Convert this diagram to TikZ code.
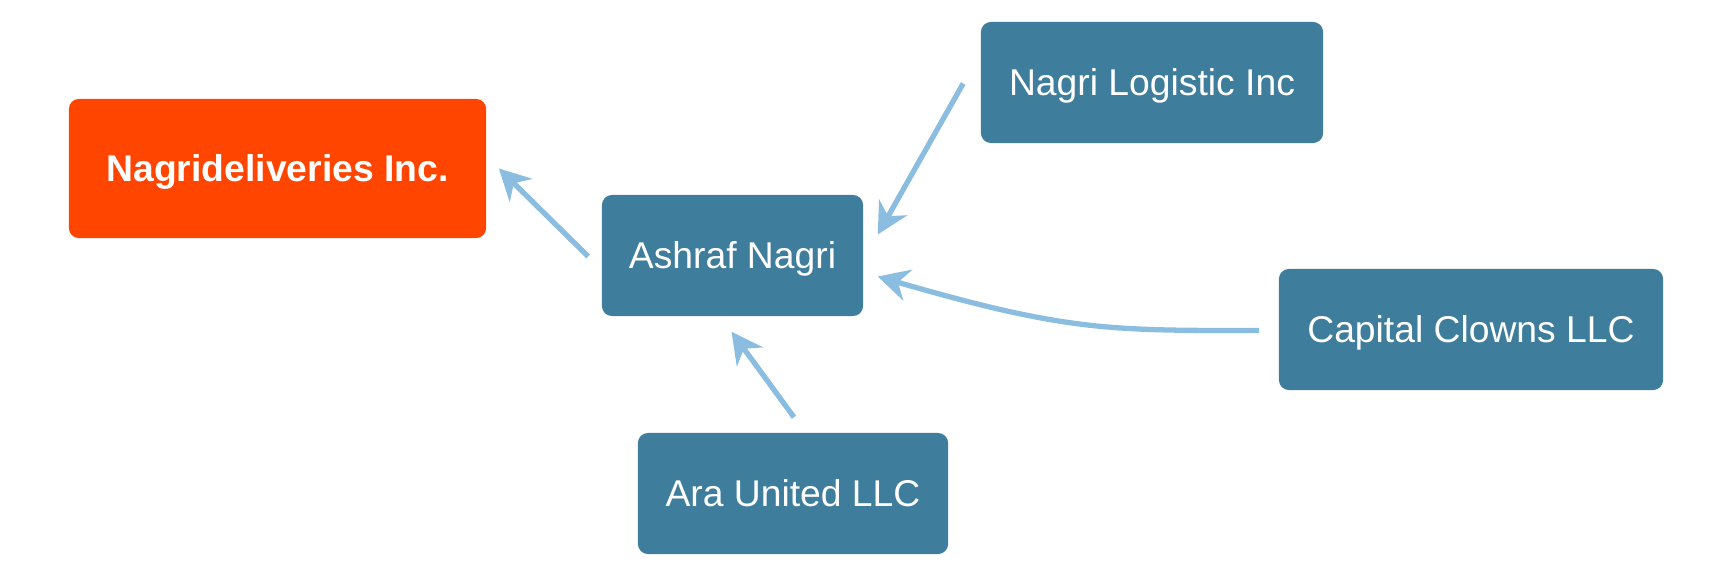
\documentclass[tikz,border=0pt]{standalone}
\usepackage{fontspec}
\setmainfont{Liberation Sans}
\usetikzlibrary{arrows.meta,calc}
\definecolor{boxblue}{RGB}{62,125,156}
\definecolor{boxorange}{RGB}{255,69,0}
\definecolor{linkblue}{RGB}{139,189,224}
\begin{document}
\begin{tikzpicture}[x=0.01cm,y=-0.01cm,
    company/.style={fill=boxblue,text=white,rounded corners=0.1cm,inner sep=0pt,
      text height=0.267cm,text depth=0pt,font=\fontsize{10.6}{12.7}\selectfont,
      minimum height=1.21cm},
    target/.style={company,fill=boxorange,font=\fontsize{10.6}{12.7}\selectfont\bfseries},
    link/.style={draw=linkblue,line width=1.5pt,
      -{Stealth[length=0.31cm,width=0.32cm,inset=0.1cm]}}]
  \useasboundingbox (0,0) rectangle (1727,576);
  \draw
    (277.5,168.5) node[target,minimum width=4.17cm,minimum height=1.39cm] (nagri){Nagrideliveries Inc.}
    (732.5,255.5) node[company,minimum width=2.61cm] (ashraf){Ashraf Nagri}
    (1152,82.5) node[company,minimum width=3.42cm] (logistic){Nagri Logistic Inc}
    (1471,329.5) node[company,minimum width=3.84cm] (capital){Capital Clowns LLC}
    (793,493.5) node[company,minimum width=3.10cm] (ara){Ara United LLC};
  \begin{scope}[link]
    \draw ($(ashraf.west)+(-13,1)$) -- ($(nagri.east)+(12,0)$);
    \draw ($(logistic.west)+(-17,1)$) -- ($(ashraf.east)+(14,-21)$);
    \draw ($(capital.west)+(-19,1)$) .. controls +(-150,0) and +(190,55) .. ($(ashraf.east)+(14,21)$);
    \draw ($(ara.north)+(1,-15)$) -- ($(ashraf.south)+(-1,15)$);
  \end{scope}
\end{tikzpicture}
\end{document}
